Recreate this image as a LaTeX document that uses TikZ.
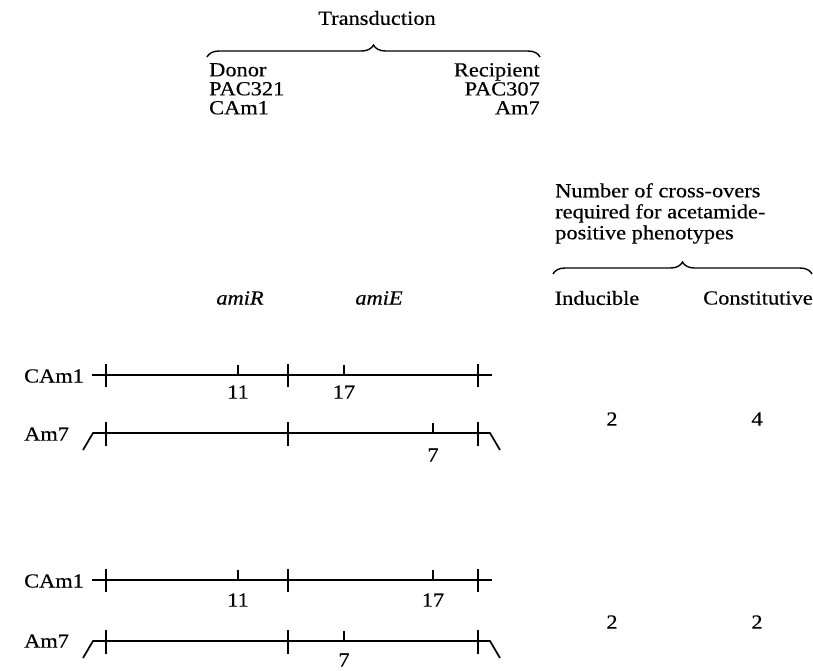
\documentclass[tikz,border=0pt]{standalone}
\usepackage{fontspec}
\setmainfont{Liberation Serif}[FakeStretch=1.12, FakeBold=0.4]
\usetikzlibrary{decorations.pathreplacing}
\tikzset{
  txt/.style={inner sep=0pt, font=\fontsize{20}{19}\selectfont},
  lbl/.style={txt, anchor=west},
  gene/.style={line width=1.7pt},
  tall/.style={line width=1.7pt},
  brc/.style={line width=1.4pt, decorate, decoration={brace, amplitude=12pt}},
}
\begin{document}
\begin{tikzpicture}[x=1pt,y=-1pt]
\useasboundingbox (0,0) rectangle (813,670);
% header
\node[txt] (trans) at (377,18) {Transduction};
\coordinate (b1l) at (207,57);
\coordinate (b1r) at (540,57);
\draw[brc] (b1l) -- (b1r);
\node[txt, anchor=north west, align=left] (donor) at (209,63) {Donor\\PAC321\\CAm1};
\node[txt, anchor=north east, align=right] (recip) at (540,63) {Recipient\\PAC307\\Am7};
\node[txt, anchor=north west, align=left, font=\fontsize{20}{21}\selectfont] (numco) at (555,183) {Number of cross-overs\\required for acetamide-\\positive phenotypes};
\coordinate (b2l) at (553,274);
\coordinate (b2r) at (812,274);
\draw[brc] (b2l) -- (b2r);
\node[txt] (amiR) at (240,298) {\itshape amiR};
\node[txt] (amiE) at (379,298) {\itshape amiE};
\node[txt] (ind) at (597,298) {Inducible};
\node[txt] (con) at (758,298) {Constitutive};
% ---------- row 1 ----------
\node[lbl] (c1) at (24,376) {CAm1};
\coordinate (c1a) at (92,375); \coordinate (c1b) at (492,375);
\draw[gene] (c1a) -- (c1b);
\foreach \x in {106,288,478} \draw[tall] (\x,364) -- (\x,387);
\foreach \x in {238,344} \draw[tall] (\x,365) -- (\x,375);
\node[txt] (n11a) at (238,392) {11};
\node[txt] (n17a) at (344,392) {17};
\node[lbl] (a1) at (24,434) {Am7};
\coordinate (a1s) at (83,450); \coordinate (a1a) at (93,433);
\coordinate (a1b) at (490,433); \coordinate (a1e) at (500,450);
\draw[gene] (a1s) -- (a1a) -- (a1b) -- (a1e);
\foreach \x in {106,288,478} \draw[tall] (\x,422) -- (\x,446);
\draw[tall] (433,423) -- (433,433);
\node[txt] (n7a) at (433,455) {7};
\node[txt] (r1i) at (612,419) {2};
\node[txt] (r1c) at (757,419) {4};
% ---------- row 2 ----------
\node[lbl] (c2) at (24,581) {CAm1};
\coordinate (c2a) at (92,580); \coordinate (c2b) at (492,580);
\draw[gene] (c2a) -- (c2b);
\foreach \x in {106,288,478} \draw[tall] (\x,569) -- (\x,592);
\foreach \x in {238,433} \draw[tall] (\x,570) -- (\x,580);
\node[txt] (n11b) at (238,600) {11};
\node[txt] (n17b) at (433,600) {17};
\node[lbl] (a2) at (24,641) {Am7};
\coordinate (a2s) at (83,658); \coordinate (a2a) at (93,641);
\coordinate (a2b) at (490,641); \coordinate (a2e) at (500,658);
\draw[gene] (a2s) -- (a2a) -- (a2b) -- (a2e);
\foreach \x in {106,288,478} \draw[tall] (\x,630) -- (\x,654);
\draw[tall] (344,631) -- (344,641);
\node[txt] (n7b) at (344,660) {7};
\node[txt] (r2i) at (612,622) {2};
\node[txt] (r2c) at (757,622) {2};
\end{tikzpicture}
\end{document}
